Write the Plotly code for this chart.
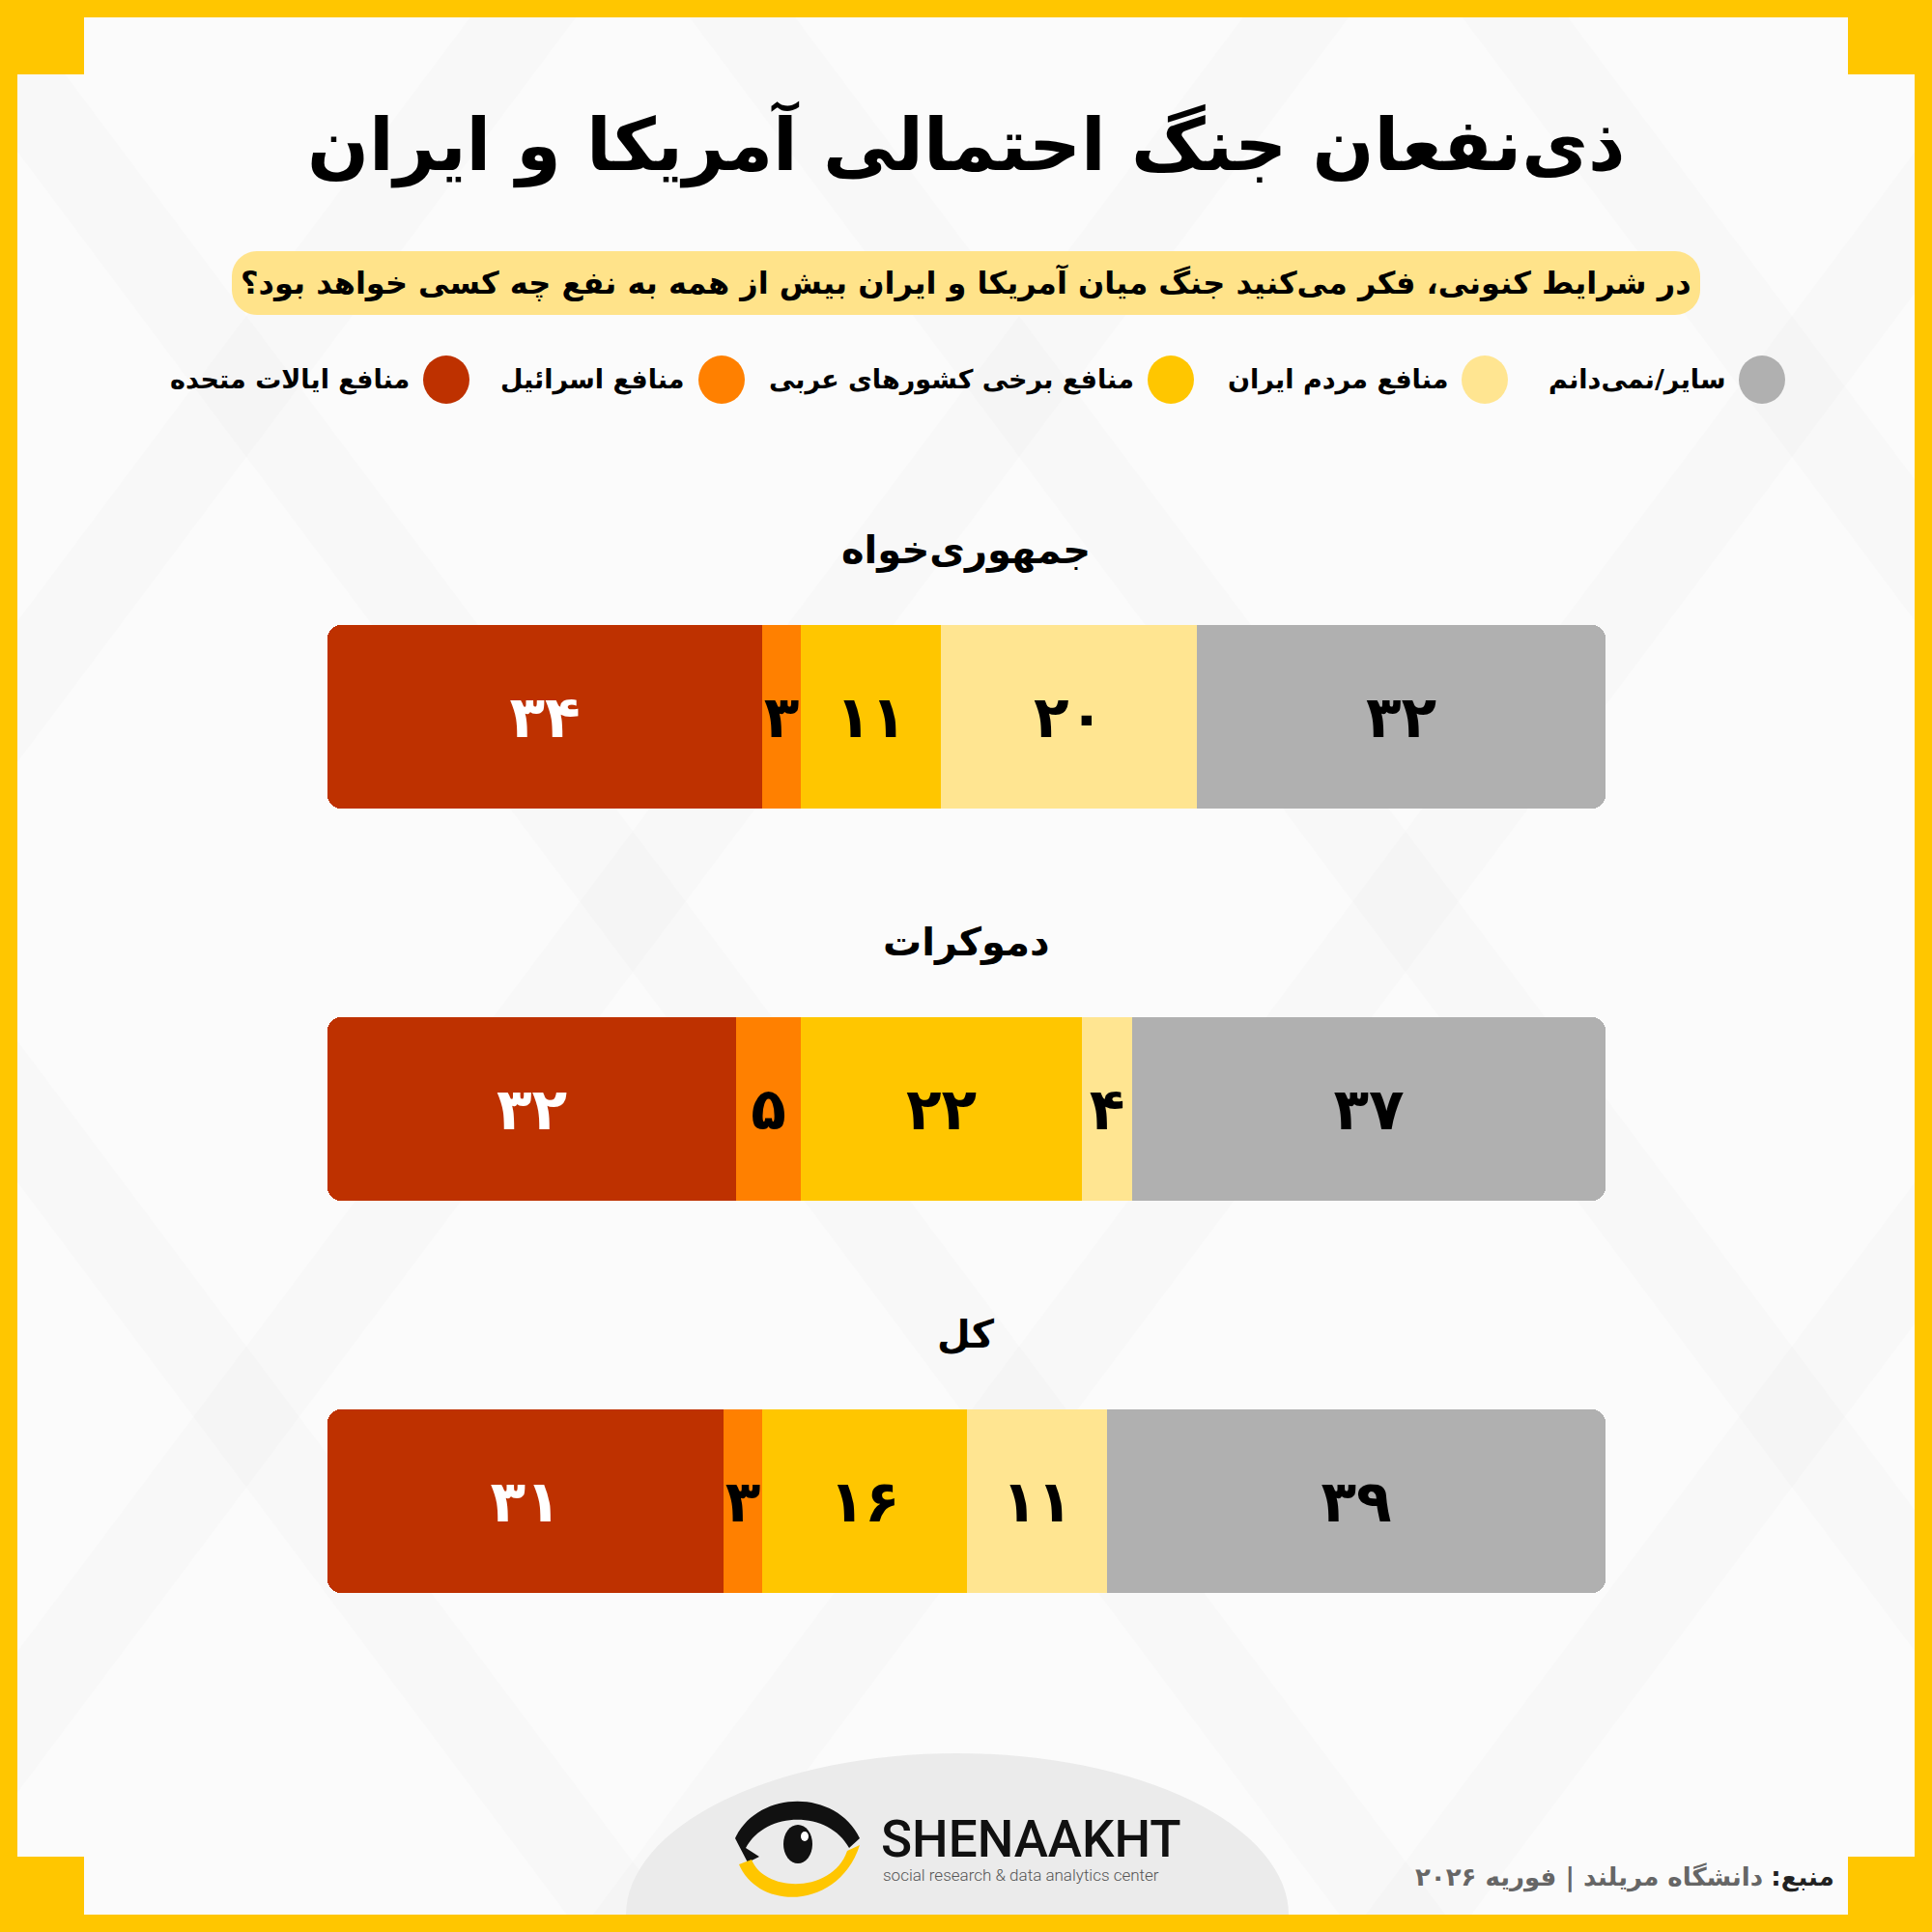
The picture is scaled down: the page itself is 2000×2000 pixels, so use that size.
import plotly.graph_objects as go

W = H = 2000

# ---------------- data ----------------
title = "ذی‌نفعان جنگ احتمالی آمریکا و ایران"
subtitle = "در شرایط کنونی، فکر می‌کنید جنگ میان آمریکا و ایران بیش از همه به نفع چه کسی خواهد بود؟"
groups = ["جمهوری‌خواه", "دموکرات", "کل"]
series_names = ["منافع ایالات متحده", "منافع اسرائیل", "منافع برخی کشورهای عربی",
                "منافع مردم ایران", "سایر/نمی‌دانم"]
us_interest = [34, 32, 31]
israel_interest = [3, 5, 3]
arab_interest = [11, 22, 16]
iran_people_interest = [20, 4, 11]
other_dontknow = [32, 37, 39]
source_label = "منبع:"
source_text = "دانشگاه مریلند | فوریه ۲۰۲۶"
brand = "SHENAAKHT"
brand_sub = "social research & data analytics center"

series_values = [us_interest, israel_interest, arab_interest, iran_people_interest, other_dontknow]

# ---------------- style ----------------
series_colors = ["#BE3100", "#FF8000", "#FFC600", "#FFE591", "#B0B0B0"]
label_colors = ["#FFFFFF", "#000000", "#000000", "#000000", "#000000"]
YELLOW = "#FFC600"
FA = "DejaVu Sans, sans-serif"
FA_DIGITS = str.maketrans("0123456789", "۰۱۲۳۴۵۶۷۸۹")


def fa(n):
    return str(n).translate(FA_DIGITS)


def px(x):
    return x / W


def py(y):
    return 1 - y / H


shapes = []
annotations = []


def rect(x0, y0, x1, y1, color):
    shapes.append(dict(type="rect", xref="paper", yref="paper", x0=px(x0), x1=px(x1),
                       y0=py(y1), y1=py(y0), fillcolor=color, line_width=0, layer="below"))


def path(cmds, color):
    s = ""
    for c in cmds:
        s += c[0] + " " + " ".join(f"{px(x):.5f},{py(y):.5f}" for x, y in c[1:]) + " "
    shapes.append(dict(type="path", xref="paper", yref="paper", path=s.strip(),
                       fillcolor=color, line_width=0, layer="below"))


def rrect(x0, y0, x1, y1, r, color):
    k = 0.5523 * r
    path([("M", (x0 + r, y0)), ("L", (x1 - r, y0)),
          ("C", (x1 - r + k, y0), (x1, y0 + r - k), (x1, y0 + r)),
          ("L", (x1, y1 - r)),
          ("C", (x1, y1 - r + k), (x1 - r + k, y1), (x1 - r, y1)),
          ("L", (x0 + r, y1)),
          ("C", (x0 + r - k, y1), (x0, y1 - r + k), (x0, y1 - r)),
          ("L", (x0, y0 + r)),
          ("C", (x0, y0 + r - k), (x0 + r - k, y0), (x0 + r, y0)), ("Z",)], color)


def ann(x, y, text, size, color="#000", xanchor="center", yanchor="middle", family=FA, weight="bold"):
    annotations.append(dict(xref="paper", yref="paper", x=px(x), y=py(y), text=text, showarrow=False,
                            xanchor=xanchor, yanchor=yanchor,
                            font=dict(family=family, size=size, color=color, weight=weight)))


# faint background lattice
band = "rgba(0,0,0,0.011)"
for c in [-900, -100, 700, 1500]:
    path([("M", (c, 0)), ("L", (c + 110, 0)), ("L", (c + 110 + 1500, 2000)), ("L", (c + 1500, 2000)), ("Z",)], band)
for c in [500, 1300, 2100, 2900]:
    path([("M", (c, 0)), ("L", (c + 110, 0)), ("L", (c + 110 - 1500, 2000)), ("L", (c - 1500, 2000)), ("Z",)], band)

# footer ellipse
shapes.append(dict(type="circle", xref="paper", yref="paper", x0=px(648), x1=px(1334),
                   y0=py(2150), y1=py(1815), fillcolor="#EBEBEB", line_width=0, layer="below"))

# yellow frame
rect(0, 0, 2000, 18, YELLOW)
rect(0, 1982, 2000, 2000, YELLOW)
rect(0, 0, 18, 2000, YELLOW)
rect(1982, 0, 2000, 2000, YELLOW)
rect(0, 0, 87, 77, YELLOW)
rect(1913, 0, 2000, 77, YELLOW)
rect(0, 1922, 87, 2000, YELLOW)
rect(1913, 1922, 2000, 2000, YELLOW)

# title & subtitle
ann(1000, 150, title, 75)
rrect(240, 260, 1760, 326, 26, "#FFE38A")
ann(1000, 293, subtitle, 32, weight="bold")

# legend (right to left)
legend_cx = [462, 747, 1212, 1537, 1824]
for name, col, cx in zip(series_names, series_colors, legend_cx):
    shapes.append(dict(type="circle", xref="paper", yref="paper", x0=px(cx - 24), x1=px(cx + 24),
                       y0=py(393 + 25), y1=py(393 - 25), fillcolor=col, line_width=0, layer="below"))
    ann(cx - 36, 393, name, 27, xanchor="right")

# ---------------- bars ----------------
bar_top = [647, 1053, 1459]
bar_h = 190
bar_x0, bar_x1 = 339, 1662

fig = go.Figure()
layout_axes = {}
for i, g in enumerate(groups):
    sfx = "" if i == 0 else str(i + 1)
    xa, ya = "x" + sfx, "y" + sfx
    left = series_values[0][i]
    layout_axes["xaxis" + sfx] = dict(domain=[px(bar_x0), px(bar_x1)], range=[-left, 100 - left],
                                      visible=False, fixedrange=True, anchor=ya)
    layout_axes["yaxis" + sfx] = dict(domain=[py(bar_top[i] + bar_h), py(bar_top[i])], range=[-0.5, 0.5],
                                      visible=False, fixedrange=True, anchor=xa)
    for s in range(5):
        v = series_values[s][i]
        fig.add_trace(go.Bar(
            x=[-v if s == 0 else v], y=[0], orientation="h", width=1,
            marker=dict(color=series_colors[s], line=dict(width=0)),
            text=[fa(v)], textposition="inside", insidetextanchor="middle", textangle=0,
            constraintext="none",
            textfont=dict(family=FA, size=60, color=label_colors[s], weight="bold"),
            hoverinfo="skip", showlegend=False, xaxis=xa, yaxis=ya))
    ann(1000, bar_top[i] - 78, g, 40)

# footer logo
path([("M", (761, 1903)), ("C", (785, 1852), (866, 1852), (890, 1903)),
      ("L", (879, 1913)), ("C", (858, 1874), (793, 1874), (772, 1913)), ("L", (786, 1922)),
      ("L", (774, 1928)), ("Z",)], "#111111")
path([("M", (765, 1930)), ("C", (785, 1978), (868, 1978), (890, 1910)),
      ("L", (877, 1916)), ("C", (862, 1960), (792, 1960), (778, 1925)), ("Z",)], YELLOW)
shapes.append(dict(type="circle", xref="paper", yref="paper", x0=px(811), x1=px(841),
                   y0=py(1929), y1=py(1889), fillcolor="#111111", line_width=0, layer="below"))
shapes.append(dict(type="circle", xref="paper", yref="paper", x0=px(829), x1=px(837),
                   y0=py(1906), y1=py(1896), fillcolor="#FFFFFF", line_width=0, layer="below"))
ann(910, 1904, brand, 53, color="#111111", xanchor="left", family="Roboto, sans-serif", weight=500)
ann(912, 1941, brand_sub, 17, color="#555555", xanchor="left", family="Roboto, sans-serif", weight=300)

ann(1901, 1943,
    f"<span style='color:#222'><b>{source_label}</b></span> <span style='color:#666'><b>{source_text}</b></span>",
    26, xanchor="right", weight="normal")

fig.update_layout(
    width=W, height=H, margin=dict(l=0, r=0, t=0, b=0),
    paper_bgcolor="#FBFBFB", plot_bgcolor="rgba(0,0,0,0)",
    barmode="relative", bargap=0, barcornerradius=14,
    shapes=shapes, annotations=annotations, showlegend=False,
    **layout_axes)

fig.write_html("out.html")
